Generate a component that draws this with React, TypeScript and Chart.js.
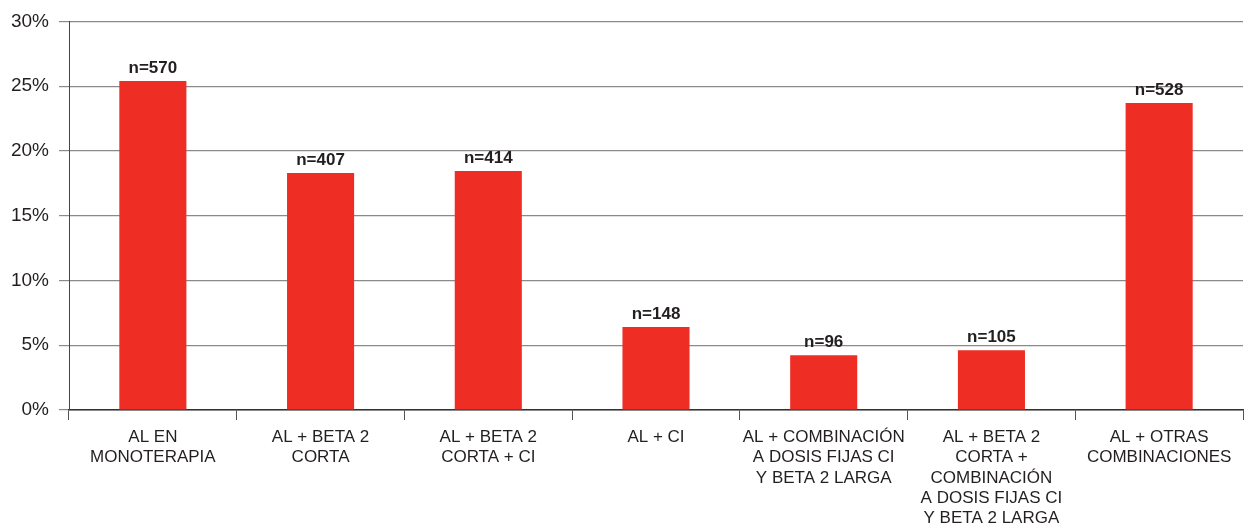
import React, { useEffect, useRef } from "react";
import { Chart, registerables } from "chart.js";

Chart.register(...registerables);

const categories: string[][] = [
  ["AL EN", "MONOTERAPIA"],
  ["AL + BETA 2", "CORTA"],
  ["AL + BETA 2", "CORTA + CI"],
  ["AL + CI"],
  ["AL + COMBINACIÓN", "A DOSIS FIJAS CI", "Y BETA 2 LARGA"],
  ["AL + BETA 2", "CORTA +", "COMBINACIÓN", "A DOSIS FIJAS CI", "Y BETA 2 LARGA"],
  ["AL + OTRAS", "COMBINACIONES"],
];
const percentages: number[] = [25.4, 18.3, 18.45, 6.4, 4.23, 4.62, 23.7];
const counts: string[] = ["n=570", "n=407", "n=414", "n=148", "n=96", "n=105", "n=528"];
const yTicks: number[] = [0, 5, 10, 15, 20, 25, 30];

const FONT = "'Liberation Sans', Arial, Helvetica, sans-serif";
const TEXT = "#231f20";

const barLabels = {
  id: "barLabels",
  afterDatasetsDraw(chart: any) {
    const ctx = chart.ctx;
    const meta = chart.getDatasetMeta(0);
    ctx.save();
    ctx.font = `bold 17px ${FONT}`;
    ctx.fillStyle = TEXT;
    ctx.textAlign = "center";
    ctx.textBaseline = "bottom";
    meta.data.forEach((bar: any, i: number) => {
      ctx.fillText(counts[i], bar.x, bar.y - 4);
    });
    ctx.restore();
  },
};

export default function App() {
  const ref = useRef<HTMLCanvasElement | null>(null);
  useEffect(() => {
    if (!ref.current) return;
    const chart = new Chart(ref.current, {
      type: "bar",
      data: {
        labels: categories,
        datasets: [
          {
            data: percentages,
            backgroundColor: "#ee2e24",
            borderWidth: 0,
            barPercentage: 0.4,
            categoryPercentage: 1,
          },
        ],
      },
      options: {
        animation: false,
        responsive: true,
        maintainAspectRatio: false,
        layout: { padding: { top: 20, right: 1, left: 0, bottom: 0 } },
        plugins: { legend: { display: false }, tooltip: { enabled: false } },
        scales: {
          x: {
            grid: {
              offset: true,
              drawOnChartArea: false,
              drawTicks: true,
              tickLength: 10,
              color: "#555",
              lineWidth: 1,
            },
            border: { display: true, color: "#333", width: 1.5 },
            ticks: {
              color: TEXT,
              font: { family: FONT, size: 17, lineHeight: 1.2 },
              padding: 7,
              maxRotation: 0,
              autoSkip: false,
            },
            afterFit(scale: any) {
              scale.height = 116;
            },
          },
          y: {
            min: 0,
            max: 30,
            afterBuildTicks(scale: any) {
              scale.ticks = yTicks.map((v) => ({ value: v }));
            },
            grid: {
              color: "#8a8a8a",
              lineWidth: 1.2,
              tickLength: 10,
            },
            border: { display: true, color: "#444", width: 1 },
            ticks: {
              color: TEXT,
              font: { family: FONT, size: 19 },
              padding: 10,
              callback: (v: any) => `${v}%`,
            },
            afterFit(scale: any) {
              scale.width = 69;
            },
          },
        },
      },
      plugins: [barLabels],
    });
    return () => chart.destroy();
  }, []);
  return (
    <div style={{ position: "fixed", left: 0, top: 0, width: 1244, height: 526, background: "#fff" }}>
      <canvas ref={ref} />
    </div>
  );
}
